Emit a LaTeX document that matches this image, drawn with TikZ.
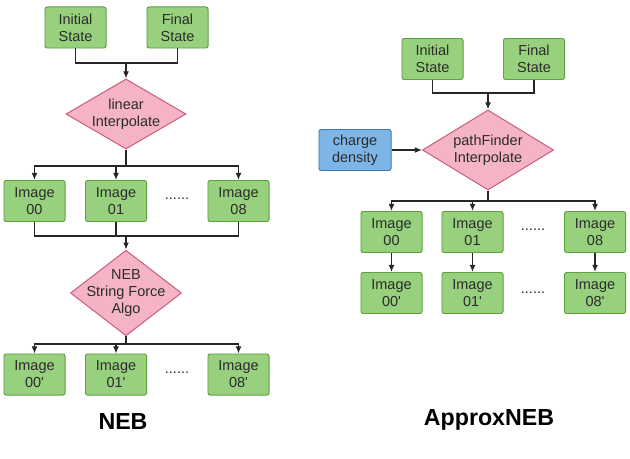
\documentclass[tikz,border=0pt]{standalone}
\usepackage{fontspec}
\setmainfont{Liberation Sans}
\usetikzlibrary{arrows.meta, positioning, shapes.geometric}

\definecolor{boxgreen}{HTML}{98D17E}
\definecolor{boxgreenline}{HTML}{5FA043}
\definecolor{decpink}{HTML}{F4B4C6}
\definecolor{decpinkline}{HTML}{CB5A7E}
\definecolor{chgblue}{HTML}{7DB5E6}
\definecolor{chgblueline}{HTML}{3F78B0}
\definecolor{txtgray}{HTML}{2B2B2B}

\begin{document}
\begin{tikzpicture}[
    x=0.025cm, y=-0.025cm,
    font=\fontsize{10.3}{12}\selectfont,
    imgbox/.style={draw=boxgreenline, fill=boxgreen, rounded corners=1.5pt, align=center, text=txtgray, minimum width=1.525cm, minimum height=1.025cm, inner sep=0pt, line width=0.7pt},
    chgbox/.style={imgbox, draw=chgblueline, fill=chgblue, minimum width=1.8cm},
    decide/.style={diamond, draw=decpinkline, fill=decpink, align=center, text=txtgray, inner sep=-2.5mm, line width=0.7pt},
    dotsnode/.style={text=txtgray, inner sep=0pt},
    title/.style={font=\fontsize{16.5}{18}\bfseries\selectfont, text=black},
    arrow/.style={-{Latex[length=1.8mm, width=1.5mm]}, line width=0.95pt, draw=black!85},
    link/.style={line width=0.95pt, draw=black!85}
]
  \useasboundingbox (0,0) rectangle (630,459);

  \node[imgbox] (i1) at (75.5,27.5) {Initial\\State};
  \node[imgbox] (f1) at (177.5,27.5) {Final\\State};
  \node[decide, minimum width=3cm, minimum height=1.75cm] (lin) at (126,114) {linear\\Interpolate};
  \node[imgbox] (a00) at (34.5,201) {Image\\00};
  \node[imgbox] (a01) at (116,201) {Image\\01};
  \node[imgbox] (a08) at (238.5,201) {Image\\08};
  \node[dotsnode] (adots) at (177,199) {......};
  \node[decide, minimum width=2.775cm, minimum height=2cm] (neb) at (126,293) {NEB\\String Force\\Algo};
  \node[imgbox] (b00) at (34.5,374.5) {Image\\00\textquotesingle};
  \node[imgbox] (b01) at (116,374.5) {Image\\01\textquotesingle};
  \node[imgbox] (b08) at (238.5,374.5) {Image\\08\textquotesingle};
  \node[dotsnode] (bdots) at (177,372.5) {......};
  \node[title] (nebtitle) at (123,422) {NEB};

  \coordinate (j1) at (126,63);
  \coordinate (s1) at (126,166);
  \coordinate (j2) at (126,236);
  \coordinate (s2) at (126,344);

  \draw[link] (i1.south) |- (j1) -| (f1.south);
  \draw[arrow] (j1) -- (lin.north);
  \draw[arrow] (lin.south) -- (s1) -| (a00.north);
  \draw[arrow] (lin.south) -- (s1) -| (a01.north);
  \draw[arrow] (lin.south) -- (s1) -| (a08.north);
  \draw[link] (a00.south) |- (j2) -| (a08.south);
  \draw[link] (a01.south) |- (j2);
  \draw[arrow] (j2) -- (neb.north);
  \draw[arrow] (neb.south) -- (s2) -| (b00.north);
  \draw[arrow] (neb.south) -- (s2) -| (b01.north);
  \draw[arrow] (neb.south) -- (s2) -| (b08.north);

  \node[imgbox] (i2) at (432.5,59) {Initial\\State};
  \node[imgbox] (f2) at (534,59) {Final\\State};
  \node[decide, minimum width=3.275cm, minimum height=2cm] (pf) at (488,150) {pathFinder\\Interpolate};
  \node[chgbox] (chg) at (355,150) {charge\\density};
  \node[imgbox] (c00) at (391.5,232) {Image\\00};
  \node[imgbox] (c01) at (472.5,232) {Image\\01};
  \node[imgbox] (c08) at (595,232) {Image\\08};
  \node[dotsnode] (cdots) at (533,230) {......};
  \node[imgbox] (d00) at (391.5,293) {Image\\00\textquotesingle};
  \node[imgbox] (d01) at (472.5,293) {Image\\01\textquotesingle};
  \node[imgbox] (d08) at (595,293) {Image\\08\textquotesingle};
  \node[dotsnode] (ddots) at (533,293) {......};
  \node[title] (apxtitle) at (489,420) {ApproxNEB};

  \coordinate (j3) at (488,93);
  \coordinate (s3) at (488,201);

  \draw[link] (i2.south) |- (j3) -| (f2.south);
  \draw[arrow] (j3) -- (pf.north);
  \draw[arrow] (chg.east) -- (pf.west);
  \draw[arrow] (pf.south) -- (s3) -| (c00.north);
  \draw[arrow] (pf.south) -- (s3) -| (c01.north);
  \draw[arrow] (pf.south) -- (s3) -| (c08.north);
  \draw[arrow] (c00) -- (d00);
  \draw[arrow] (c01) -- (d01);
  \draw[arrow] (c08) -- (d08);
\end{tikzpicture}
\end{document}
